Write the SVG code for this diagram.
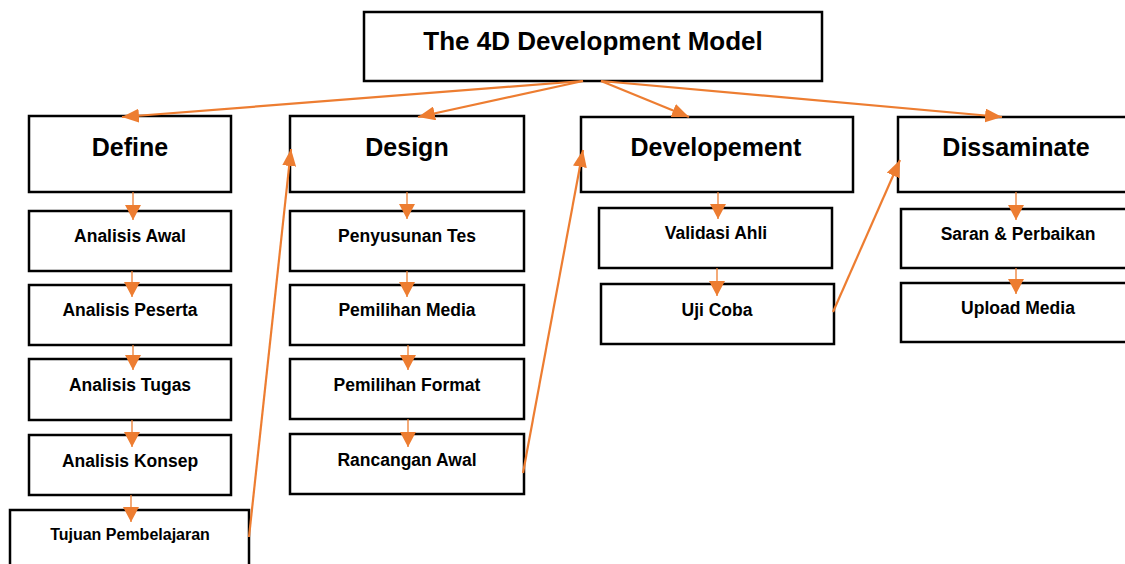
<svg xmlns="http://www.w3.org/2000/svg" width="1125" height="564" viewBox="0 0 1125 564">
<style>
.box{fill:#fff;stroke:#000;stroke-width:2.5}
.t{font-family:"Liberation Sans",Arial,sans-serif;font-weight:bold;fill:#000;text-anchor:middle}
.title{font-size:26px}
.h{font-size:25px}
.s{font-size:17.5px}
.xs{font-size:16px}
.big{stroke:#ED7D31;stroke-width:2.2;fill:none;marker-end:url(#ab)}
.sm{stroke:#ED7D31;stroke-width:1.3;fill:none;marker-end:url(#as)}
</style>
<defs>
<marker id="ab" markerUnits="userSpaceOnUse" markerWidth="17" markerHeight="14" refX="17" refY="7" orient="auto"><path d="M0,0 L17,7 L0,14 z" fill="#ED7D31"/></marker>
<marker id="as" markerUnits="userSpaceOnUse" markerWidth="15" markerHeight="16" refX="15" refY="8" orient="auto"><path d="M0,0 L15,8 L0,16 z" fill="#ED7D31"/></marker>
</defs>
<rect width="1125" height="564" fill="#fff"/>
<g id="title"><rect class="box" x="364" y="12" width="458" height="69"/><text class="t title" x="593" y="50">The 4D Development Model</text></g>
<g id="define"><rect class="box" x="29" y="116" width="202" height="76"/><text class="t h" x="130" y="156">Define</text></g>
<g id="design"><rect class="box" x="290" y="116" width="234" height="76"/><text class="t h" x="407" y="156">Design</text></g>
<g id="developement"><rect class="box" x="581" y="117" width="272" height="75"/><text class="t h" x="716" y="156">Developement</text></g>
<g id="dissaminate"><rect class="box" x="898" y="117" width="240" height="75"/><text class="t h" x="1016" y="156">Dissaminate</text></g>
<g id="analisis-awal"><rect class="box" x="29" y="211" width="202" height="60"/><text class="t s" x="130" y="242">Analisis Awal</text></g>
<g id="analisis-peserta"><rect class="box" x="29" y="285" width="202" height="60"/><text class="t s" x="130" y="316">Analisis Peserta</text></g>
<g id="analisis-tugas"><rect class="box" x="29" y="359" width="202" height="61"/><text class="t s" x="130" y="391">Analisis Tugas</text></g>
<g id="analisis-konsep"><rect class="box" x="29" y="435" width="202" height="60"/><text class="t s" x="130" y="467">Analisis Konsep</text></g>
<g id="tujuan"><rect class="box" x="10" y="510" width="239" height="70"/><text class="t xs" x="130" y="540">Tujuan Pembelajaran</text></g>
<g id="penyusunan"><rect class="box" x="290" y="211" width="234" height="60"/><text class="t s" x="407" y="242">Penyusunan Tes</text></g>
<g id="pemilihan-media"><rect class="box" x="290" y="285" width="234" height="60"/><text class="t s" x="407" y="316">Pemilihan Media</text></g>
<g id="pemilihan-format"><rect class="box" x="290" y="359" width="234" height="60"/><text class="t s" x="407" y="391">Pemilihan Format</text></g>
<g id="rancangan"><rect class="box" x="290" y="434" width="234" height="60"/><text class="t s" x="407" y="466">Rancangan Awal</text></g>
<g id="validasi"><rect class="box" x="599" y="208" width="233" height="60"/><text class="t s" x="716" y="239">Validasi Ahli</text></g>
<g id="uji-coba"><rect class="box" x="601" y="284" width="233" height="60"/><text class="t s" x="717" y="316">Uji Coba</text></g>
<g id="saran"><rect class="box" x="901" y="209" width="240" height="59"/><text class="t s" x="1018" y="240">Saran &amp; Perbaikan</text></g>
<g id="upload"><rect class="box" x="901" y="283" width="240" height="59"/><text class="t s" x="1018" y="314">Upload Media</text></g>
<g id="connectors">
<path class="big" d="M583,81 L122,117"/>
<path class="big" d="M583,81 L418,117"/>
<path class="big" d="M601,81 L689,117"/>
<path class="big" d="M601,81 L1002,117"/>
<path class="big" d="M249,537 L291,149"/>
<path class="big" d="M523,473 L583,150"/>
<path class="big" d="M833,312 L900,160"/>
<path class="sm" d="M133,192 L133,220"/>
<path class="sm" d="M132,271 L132,297"/>
<path class="sm" d="M133,345 L133,370"/>
<path class="sm" d="M132,420 L132,447"/>
<path class="sm" d="M131,495 L131,522"/>
<path class="sm" d="M407,192 L407,219"/>
<path class="sm" d="M407,271 L407,297"/>
<path class="sm" d="M408,345 L408,370"/>
<path class="sm" d="M408,419 L408,447"/>
<path class="sm" d="M718,192 L718,219"/>
<path class="sm" d="M717,268 L717,296"/>
<path class="sm" d="M1016,192 L1016,220"/>
<path class="sm" d="M1016,268 L1016,294"/>
</g>
</svg>
